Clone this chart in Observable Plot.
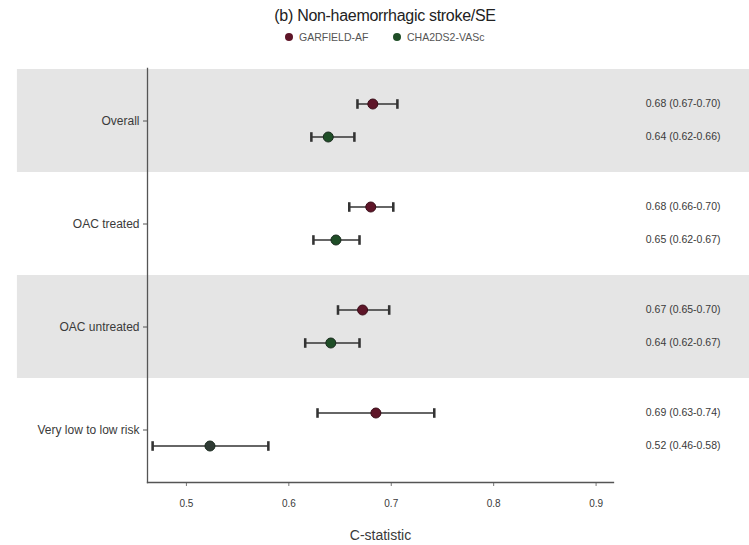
<!DOCTYPE html>
<html>
<head>
<meta charset="utf-8">
<script src="https://cdn.jsdelivr.net/npm/d3@7"></script>
<script src="https://cdn.jsdelivr.net/npm/@observablehq/plot@0.6"></script>
<style>
  body { margin: 0; background: #fff; font-family: "Liberation Sans", Arial, sans-serif; }
  #wrap { width: 749px; height: 545px; position: relative; overflow: hidden; }
  #title { position: absolute; top: 7px; left: 0; width: 770px; text-align: center; font-size: 16px; color: #222; letter-spacing: -0.3px; }
  #legend { position: absolute; top: 31px; left: 0; width: 749px; height: 14px; font-size: 10.5px; color: #555; }
  .li { position: absolute; top: 0; display: flex; align-items: center; gap: 6px; }
  .sw { width: 8px; height: 8px; border-radius: 50%; display: inline-block; }
  #chart { position: absolute; top: 52px; left: 0; }
</style>
</head>
<body>
<div id="wrap">
  <div id="title">(b) Non-haemorrhagic stroke/SE</div>
  <div id="legend"></div>
  <div id="chart"></div>
</div>
<script>
const categories = ["Overall", "OAC treated", "OAC untreated", "Very low to low risk"];
const seriesNames = ["GARFIELD-AF", "CHA2DS2-VASc"];
const garfieldEst = [0.682, 0.680, 0.672, 0.685];
const garfieldLow = [0.667, 0.659, 0.648, 0.628];
const garfieldHigh = [0.706, 0.702, 0.698, 0.742];
const chaEst = [0.6385, 0.646, 0.641, 0.523];
const chaLow = [0.622, 0.624, 0.616, 0.467];
const chaHigh = [0.664, 0.669, 0.669, 0.580];
const garfieldText = ["0.68 (0.67-0.70)", "0.68 (0.66-0.70)", "0.67 (0.65-0.70)", "0.69 (0.63-0.74)"];
const chaText = ["0.64 (0.62-0.66)", "0.65 (0.62-0.67)", "0.64 (0.62-0.67)", "0.52 (0.46-0.58)"];
const xTicks = [0.5, 0.6, 0.7, 0.8, 0.9];
const shaded = ["Overall", "OAC untreated"];

const colors = {"GARFIELD-AF": "#5e1528", "CHA2DS2-VASc": "#1f4e27"};

const garfield = categories.map((c, i) => ({cat: c, series: seriesNames[0], est: garfieldEst[i], lo: garfieldLow[i], hi: garfieldHigh[i], label: garfieldText[i]}));
const cha = categories.map((c, i) => ({cat: c, series: seriesNames[1], est: chaEst[i], lo: chaLow[i], hi: chaHigh[i], label: chaText[i],
  fill: c === "Very low to low risk" ? "#2f3a34" : colors[seriesNames[1]]}));

// legend
const leg = document.getElementById("legend");
const legPos = [285, 393];
seriesNames.forEach((s, i) => {
  const d = document.createElement("div");
  d.className = "li";
  d.style.left = legPos[i] + "px";
  d.innerHTML = `<span class="sw" style="background:${colors[s]}"></span><span>${s}</span>`;
  leg.appendChild(d);
});

const textCol = "#3a3a3a";
const plot = Plot.plot({
  width: 749,
  height: 493,
  marginLeft: 147,
  marginRight: 136,
  marginTop: 16,
  marginBottom: 63,
  style: {fontFamily: "Liberation Sans, Arial, sans-serif", color: textCol, background: "transparent"},
  x: {domain: [0.462, 0.917]},
  y: {domain: categories, padding: 0, type: "band"},
  marks: [
    Plot.rect(shaded, {y: d => d, x1: 0.335, x2: 1.06, fill: "#e5e5e5", clip: false}),
    Plot.axisY({tickSize: 4, tickPadding: 4, fontSize: 12, label: null, stroke: "#555"}),
    Plot.axisX({ticks: xTicks, tickSize: 4, tickPadding: 13, fontSize: 10, tickFormat: d3.format(".1f"), label: null, stroke: "#777"}),
    Plot.axisX({ticks: [], label: "C-statistic", labelAnchor: "center", labelArrow: "none", labelOffset: 57, fontSize: 14, tickSize: 0}),
    Plot.frame({anchor: "left", stroke: "#555", strokeWidth: 1.3}),
    Plot.frame({anchor: "bottom", stroke: "#555", strokeWidth: 1.3}),
    Plot.link(garfield, {x1: "lo", x2: "hi", y1: "cat", y2: "cat", dy: -17, stroke: "#333", strokeWidth: 1.6, markerStart: "tick", markerEnd: "tick"}),
    Plot.link(cha, {x1: "lo", x2: "hi", y1: "cat", y2: "cat", dy: 16, stroke: "#333", strokeWidth: 1.6, markerStart: "tick", markerEnd: "tick"}),
    Plot.dot(garfield, {x: "est", y: "cat", dy: -17, r: 5, fill: colors[seriesNames[0]], stroke: "#3a0d18", strokeWidth: 1}),
    Plot.dot(cha, {x: "est", y: "cat", dy: 16, r: 5, fill: "fill", stroke: "#1a2a1e", strokeWidth: 1}),
    Plot.text(garfield, {y: "cat", text: "label", frameAnchor: "right", dx: 107, dy: -17, textAnchor: "end", fontSize: 10.5, fill: textCol}),
    Plot.text(cha, {y: "cat", text: "label", frameAnchor: "right", dx: 107, dy: 16, textAnchor: "end", fontSize: 10.5, fill: textCol})
  ]
});
document.getElementById("chart").appendChild(plot);
</script>
</body>
</html>
